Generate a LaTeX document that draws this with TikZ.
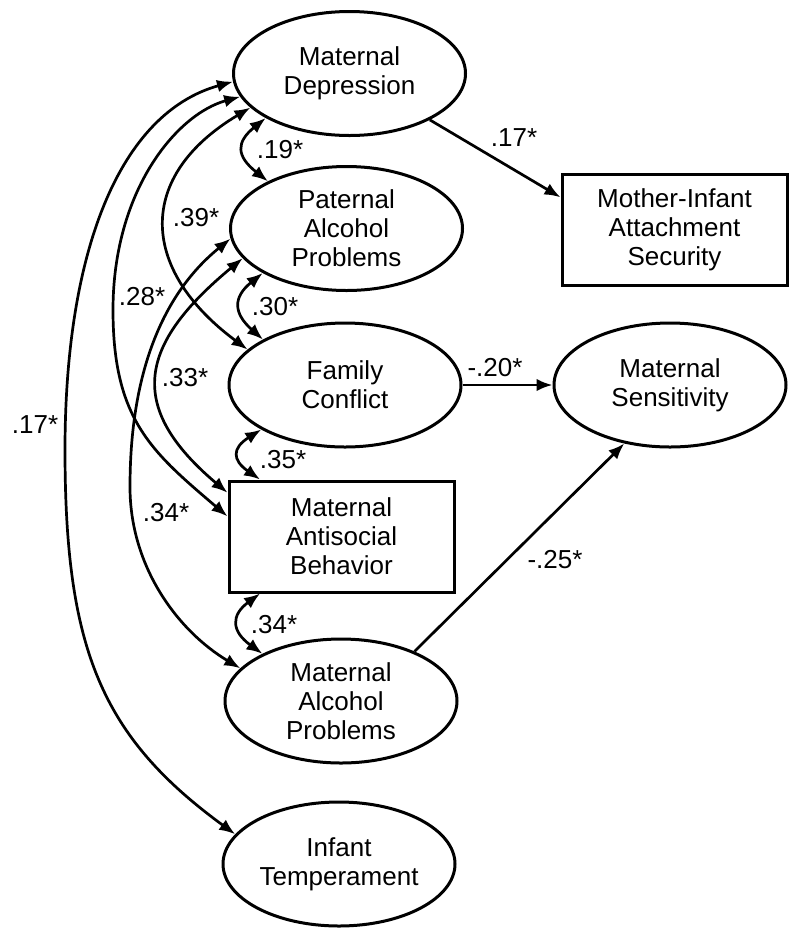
\documentclass[tikz,border=0pt]{standalone}
\usepackage{fontspec}
\setmainfont{Liberation Sans}
\usetikzlibrary{shapes.geometric,arrows.meta}
\begin{document}
\begin{tikzpicture}[x=1pt,y=-1pt,
  every node/.style={font=\fontsize{26}{29}\selectfont},
  lat/.style={draw,ellipse,line width=3pt,minimum width=232pt,minimum height=124pt,inner sep=0pt,align=center},
  obs/.style={draw,rectangle,line width=3pt,minimum width=225pt,minimum height=111pt,inner sep=0pt,align=center},
  dirarrow/.style={line width=2.7pt,-{Latex[length=16pt,width=12.5pt]}},
  covarrow/.style={line width=2.7pt,{Latex[length=16pt,width=12.5pt]}-{Latex[length=16pt,width=12.5pt]}},
  lbl/.style={inner sep=0pt}]
\useasboundingbox (0,0) rectangle (800,938);

\node[lat] (md) at (349.5,73.5) {Maternal\\Depression};
\node[lat] (pap) at (346.5,228.5) {Paternal\\Alcohol\\Problems};
\node[lat] (fc) at (345,385) {Family\\Conflict};
\node[obs] (mab) at (341.5,536.5) {Maternal\\Antisocial\\Behavior};
\node[lat] (map) at (341,701) {Maternal\\Alcohol\\Problems};
\node[lat] (it) at (339,864) {Infant\\Temperament};
\node[obs] (maas) at (674.5,230) {Mother-Infant\\Attachment\\Security};
\node[lat] (ms) at (670,385) {Maternal\\Sensitivity};

% directed paths
\draw[dirarrow] (md.330) -- (maas.164);
\draw[dirarrow] (fc.east) -- (ms.west);
\draw[dirarrow] (map.34) -- (ms.232);

% short covariances
\draw[covarrow] (md.208) .. controls (236,142) and (236,156) .. (pap.149);
\draw[covarrow] (pap.208) .. controls (233,297) and (233,313) .. (fc.151);
\draw[covarrow] (fc.208) .. controls (232,448) and (232,460) .. (mab.145);
\draw[covarrow] (mab.215) .. controls (231,615) and (231,631) .. (map.149);

% long covariances
\draw[covarrow] (md.199) .. controls (136,176) and (139,269) .. (fc.160);
\draw[covarrow] (md.192) .. controls (177,114) and (113,190) .. (113,310) .. controls (113,420) and (152,452) .. (mab.170);
\draw[covarrow] (md.184) .. controls (120,113) and (65,250) .. (65,450) .. controls (65,650) and (102,737) .. (it.164);
\draw[covarrow] (pap.196) .. controls (138,345) and (126,407) .. (mab.159);
\draw[covarrow] (pap.185) .. controls (166,291) and (130,367) .. (130,487) .. controls (130,567) and (178,631) .. (map.162);

% labels
\node[lbl] (l19) at (280,150) {.19*};
\node[lbl] (l30) at (275,307) {.30*};
\node[lbl] (l35) at (283,460) {.35*};
\node[lbl] (l34a) at (274,625) {.34*};
\node[lbl] (l39) at (196,218) {.39*};
\node[lbl] (l28) at (142,297) {.28*};
\node[lbl] (l33) at (185,378) {.33*};
\node[lbl] (l17a) at (35,425) {.17*};
\node[lbl] (l34b) at (166,513) {.34*};
\node[lbl] (l17b) at (514,138) {.17*};
\node[lbl] (l20) at (495,368) {-.20*};
\node[lbl] (l25) at (555,560) {-.25*};
\end{tikzpicture}
\end{document}
